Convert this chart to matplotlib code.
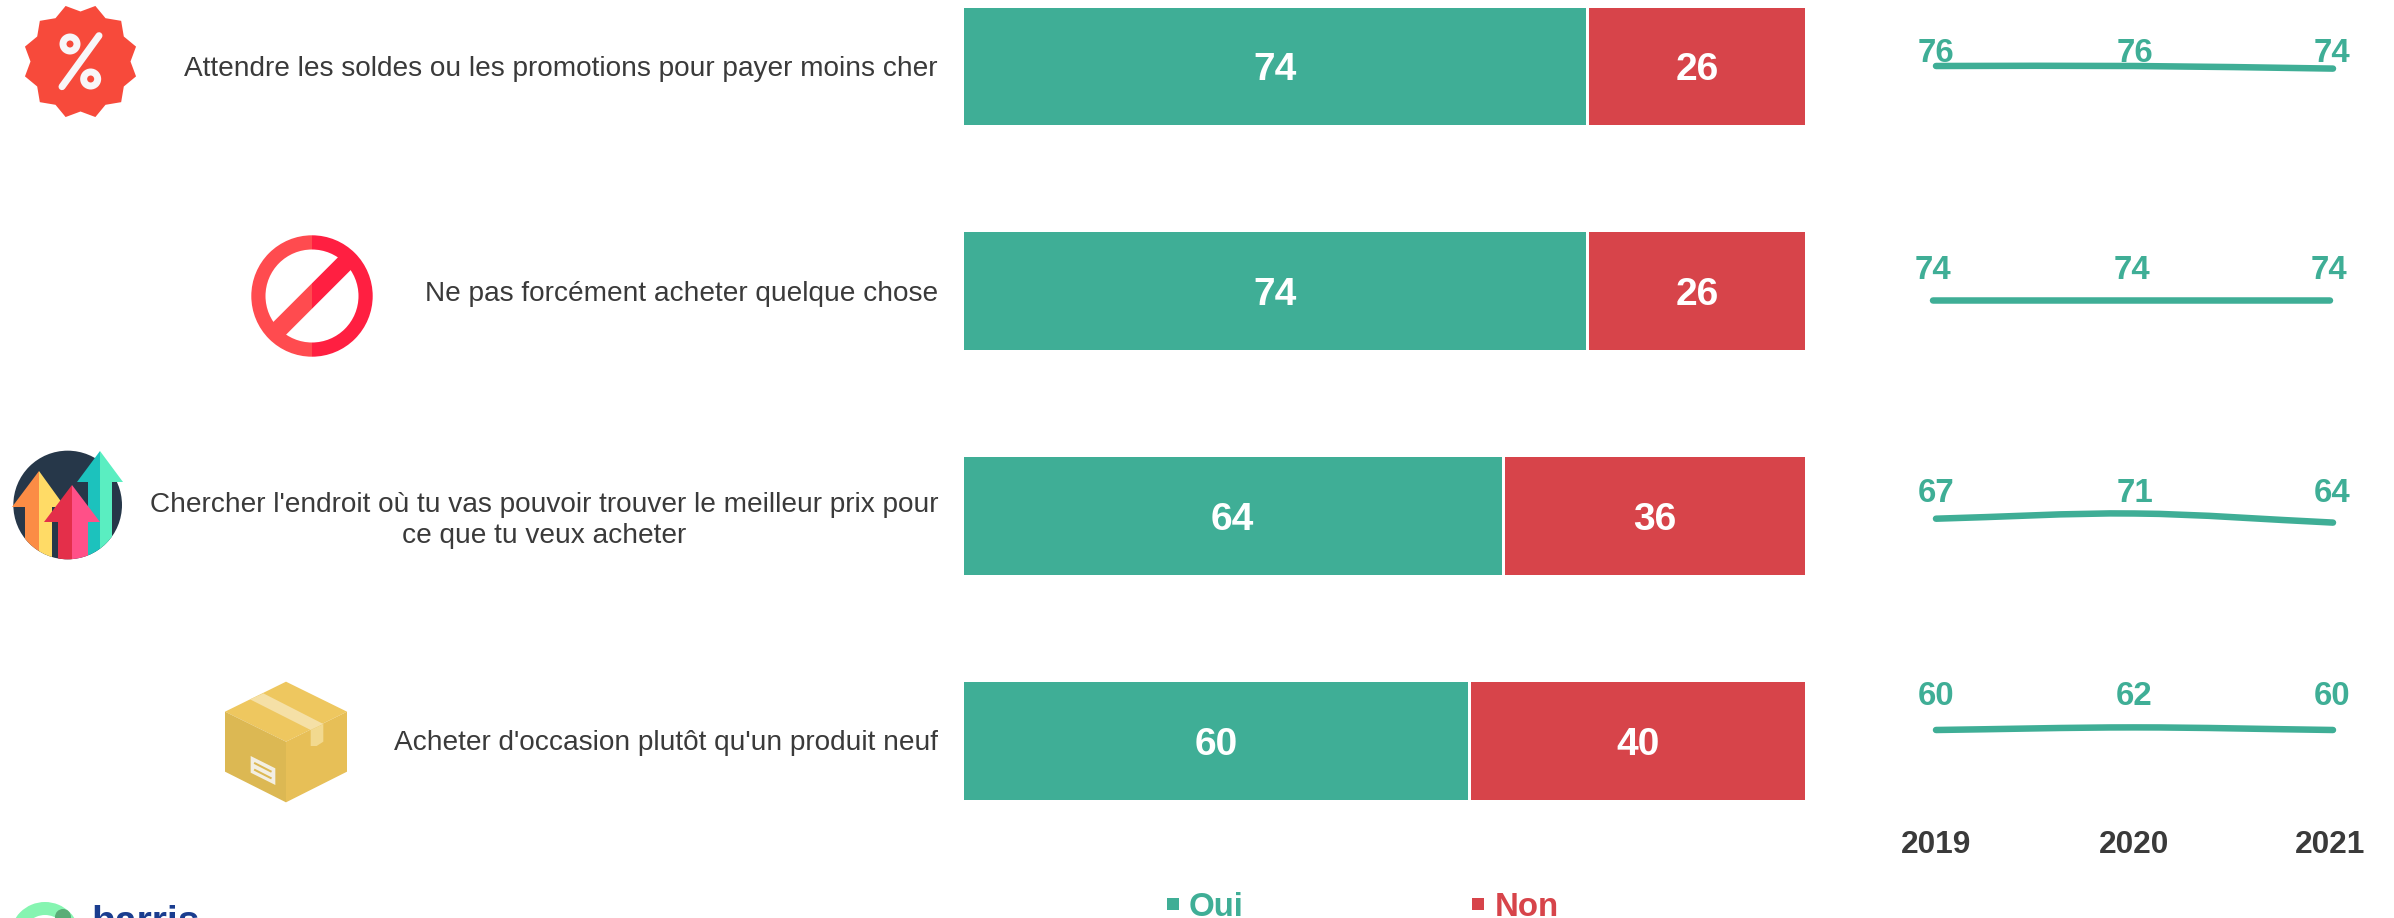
import matplotlib
matplotlib.use("Agg")
import matplotlib.pyplot as plt
import numpy as np
from matplotlib.lines import Line2D
from matplotlib.patches import Circle, PathPatch, Polygon, Wedge
from matplotlib.path import Path
from matplotlib.transforms import ScaledTranslation

plt.rcParams["font.family"] = ["Liberation Sans", "DejaVu Sans"]

# ---- data -------------------------------------------------------------
categories = [
    "Attendre les soldes ou les promotions pour payer moins cher",
    "Ne pas forcément acheter quelque chose",
    "Chercher l'endroit où tu vas pouvoir trouver le meilleur prix pour\nce que tu veux acheter",
    "Acheter d'occasion plutôt qu'un produit neuf",
]
oui = [74, 74, 64, 60]
non = [26, 26, 36, 40]
years = [2019, 2020, 2021]
trend_1 = [76, 76, 74]
trend_2 = [74, 74, 74]
trend_3 = [67, 71, 64]
trend_4 = [60, 62, 60]
trends = [trend_1, trend_2, trend_3, trend_4]

# ---- style ------------------------------------------------------------
W, H = 2394, 918
DPI = 100
GREEN = "#3fae96"
RED = "#d7444a"
DARK = "#3a3a3a"
PX = 72 / DPI
GAP = 0.4

fig = plt.figure(figsize=(W / DPI, H / DPI), dpi=DPI, facecolor="white")


def rect(x0, y0, x1, y1):
    return [x0 / W, 1 - y1 / H, (x1 - x0) / W, (y1 - y0) / H]


# ---- pixel overlay for the pictograms ----------------------------------
bg = fig.add_axes([0, 0, 1, 1], zorder=0)
bg.set_xlim(0, W)
bg.set_ylim(H, 0)
bg.axis("off")


def poly(pts, color, clip=None, z=2):
    p = Polygon(pts, closed=True, facecolor=color, edgecolor="none", zorder=z)
    bg.add_patch(p)
    if clip is not None:
        p.set_clip_path(clip)
    return p


def Z(x, y, oy=0):
    return (x / 3, oy + y / 3)


# icon 1: percent badge
cx, cy = 80.5, 61.5
star = []
for k in range(12):
    a = np.deg2rad(15 + 30 * k)
    star.append((cx + 57.5 * np.cos(a), cy + 57.5 * np.sin(a)))
    a2 = np.deg2rad(30 + 30 * k)
    star.append((cx + 50 * np.cos(a2), cy + 50 * np.sin(a2)))
poly(star, "#f74a3b")
bg.plot([186 / 3, 297 / 3], [260 / 3, 107 / 3], color="#f8f6f8", lw=7 * PX,
        solid_capstyle="round", zorder=3)
for x0, y0 in [(210 / 3, 132 / 3), (272 / 3, 237 / 3)]:
    bg.add_patch(Circle((x0, y0), 10.5, fc="#f8f6f8", ec="none", zorder=3))
    bg.add_patch(Circle((x0, y0), 3.5, fc="#f74a3b", ec="none", zorder=4))

# icon 2: forbidden sign
cx, cy, R, r = 312, 296, 60.7, 46.5
bg.add_patch(Wedge((cx, cy), R, 90, 270, width=R - r, fc="#ff4b4f", ec="none", zorder=2))
bg.add_patch(Wedge((cx, cy), R, 270, 450, width=R - r, fc="#ff1f41", ec="none", zorder=2))
w, L, s2 = 9, 50, np.sqrt(2)
ex, ey = L / s2, L / s2
nx, ny = w / s2, w / s2
poly([(cx, cy - w * s2), (cx + ex - nx, cy - ey - ny), (cx + ex + nx, cy - ey + ny),
      (cx, cy + w * s2)], "#ff1f41")
poly([(cx, cy - w * s2), (cx - ex - nx, cy + ey - ny), (cx - ex + nx, cy + ey + ny),
      (cx, cy + w * s2)], "#ff4b4f")

# icon 3: rising arrows
oy = 420
disc = Circle((203 / 3, oy + 255 / 3), 163 / 3, fc="#263749", ec="none", zorder=2)
bg.add_patch(disc)


def arrow(tip_x, tip_y, head_y, xl, xr, sl, sr, cl, cr, z):
    bottom = 440
    poly([Z(tip_x, tip_y, oy), Z(tip_x, head_y, oy), Z(xl, head_y, oy)], cl, z=z)
    poly([Z(tip_x, tip_y, oy), Z(tip_x, head_y, oy), Z(xr, head_y, oy)], cr, z=z)
    poly([Z(sl, head_y, oy), Z(tip_x, head_y, oy), Z(tip_x, bottom, oy), Z(sl, bottom, oy)], cl, clip=disc, z=z)
    poly([Z(tip_x, head_y, oy), Z(sr, head_y, oy), Z(sr, bottom, oy), Z(tip_x, bottom, oy)], cr, clip=disc, z=z)


arrow(300, 93, 185, 232, 369, 265, 335, "#1cc2bd", "#5aeec1", 3)
arrow(116, 152, 260, 36, 196, 76, 157, "#fb8c45", "#ffdb66", 4)
arrow(216, 195, 305, 133, 301, 175, 263, "#e42f4a", "#ff5088", 5)

# icon 4: cardboard box
poly([Z(858, 785, oy), Z(1041, 875, oy), Z(858, 965, oy), Z(675, 875, oy)], "#eec75f")
poly([Z(675, 875, oy), Z(858, 965, oy), Z(858, 1147, oy), Z(675, 1055, oy)], "#dcb853")
poly([Z(858, 965, oy), Z(1041, 875, oy), Z(1041, 1055, oy), Z(858, 1147, oy)], "#e7bf57")
poly([Z(750, 838, oy), Z(790, 820, oy), Z(970, 912, oy), Z(932, 930, oy)], "#f5e0a6", z=3)
poly([Z(932, 930, oy), Z(970, 912, oy), Z(970, 965, oy), Z(950, 978, oy), Z(932, 978, oy)], "#f2d98f", z=3)
poly([Z(752, 1008, oy), Z(826, 1045, oy), Z(826, 1095, oy), Z(752, 1058, oy)], "#f3efe3", z=3)
for dy in (0, 20):
    bg.plot([765 / 3, 812 / 3], [oy + (1030 + dy) / 3, oy + (1054 + dy) / 3], color="#dcb853",
            lw=2 * PX, zorder=4)

# clipped logo at the bottom edge
bg.add_patch(Wedge((45, 937), 35, 0, 360, width=13, fc="#86f5b1", ec="none", zorder=2))
bg.add_patch(Circle((63, 917), 8, fc="#5aad77", ec="none", zorder=3))
bg.text(91, 933, "harris", color="#1a3d8f", fontsize=39 * PX, fontweight="bold",
        ha="left", va="baseline", zorder=3)

# ---- stacked bars ------------------------------------------------------
BAR_L, BAR_R = 963.5, 1804.5
BAR_T, BAR_B = 7.5, 799.5
STEP = (682.3 - 8) / 3
BAR_H = 117.5 / STEP
ax = fig.add_axes(rect(BAR_L, BAR_T, BAR_R, BAR_B), zorder=1)
ax.patch.set_alpha(0)
ypos = np.arange(len(categories))
oui_arr, non_arr = np.array(oui, float), np.array(non, float)
c1 = ax.barh(ypos, oui_arr, height=BAR_H, color=GREEN, label="Oui")
c2 = ax.barh(ypos, non_arr - GAP, left=oui_arr + GAP, height=BAR_H, color=RED, label="Non")
labels_oui = [str(v) for v in oui]
labels_non = [str(v) for v in non]
value_texts = ax.bar_label(c1, labels=labels_oui, label_type="center", color="white",
                           fontsize=39 * PX, fontweight="bold")
value_texts += ax.bar_label(c2, labels=labels_non, label_type="center", color="white",
                            fontsize=39 * PX, fontweight="bold")
for t in value_texts:
    t.set_va("center_baseline")
ax.set_xlim(0, 100)
ax.set_ylim(len(categories) - 1 + BAR_H / 2, -BAR_H / 2)
ax.set_xticks([])
ax.set_yticks(ypos, categories)
ax.tick_params(axis="y", length=0, pad=25.5 * PX, labelsize=28 * PX, labelcolor=DARK)
for t in ax.get_yticklabels():
    t.set_multialignment("center")
    t.set_linespacing(1.25)
    t.set_transform(t.get_transform() + ScaledTranslation(0, 0.5 / DPI, fig.dpi_scale_trans))
for s in ax.spines.values():
    s.set_visible(False)

# ---- legend ------------------------------------------------------------
handles = [
    Line2D([], [], ls="", marker="s", ms=12 * PX, color=GREEN, mew=0),
    Line2D([], [], ls="", marker="s", ms=12 * PX, color=RED, mew=0),
]
leg = fig.legend(handles, ["Oui", "Non"], ncol=2, frameon=False,
                 loc="center left", bbox_to_anchor=(1166 / W, 1 - 907 / H),
                 bbox_transform=fig.transFigure,
                 prop={"size": 33 * PX, "weight": "bold"},
                 labelcolor=[GREEN, RED], handlelength=0.4, handletextpad=0.3,
                 columnspacing=6.9, borderpad=0, borderaxespad=0)

# ---- sparklines --------------------------------------------------------
SCALE = 1.3  # px per point
ROW_BASE_Y = [66, 300.5, 518.7, 730]  # pixel of first value
ROW_LABEL_Y = [50, 267, 490, 693]
ROW_DX = [0, -3, 0, 0]
SP_L, SP_R = 1936, 2333
LW = 6.5


def smooth_path(x, y):
    x, y = np.asarray(x, float), np.asarray(y, float)
    m = np.gradient(y, x)
    verts = [(x[0], y[0])]
    codes = [Path.MOVETO]
    for i in range(len(x) - 1):
        h = (x[i + 1] - x[i]) / 3
        verts += [(x[i] + h, y[i] + m[i] * h), (x[i + 1] - h, y[i + 1] - m[i + 1] * h), (x[i + 1], y[i + 1])]
        codes += [Path.CURVE4] * 3
    return Path(verts, codes)


for i, vals in enumerate(trends):
    dx = ROW_DX[i]
    base = ROW_BASE_Y[i]
    top_px, bot_px = base - 40, base + 40
    sp = fig.add_axes(rect(SP_L + dx, top_px, SP_R + dx, bot_px), zorder=2)
    sp.patch.set_alpha(0)
    sp.set_xlim(years[0], years[-1])
    sp.set_ylim(vals[0] - 40 / SCALE, vals[0] + 40 / SCALE)
    sp.add_patch(PathPatch(smooth_path(years, vals), fc="none", ec=GREEN, lw=LW * PX,
                           capstyle="round", clip_on=False))
    label_px_offset = [0, 0, -1]
    for yr, v, off in zip(years, vals, label_px_offset):
        sp.annotate(str(v), xy=(yr, vals[0]), xycoords="data",
                    xytext=(off * PX, (base - ROW_LABEL_Y[i]) * PX), textcoords="offset points",
                    ha="center", va="center_baseline", color=GREEN, fontsize=33 * PX,
                    fontweight="bold", annotation_clip=False)
    for s in sp.spines.values():
        s.set_visible(False)
    sp.set_yticks([])
    if i == len(trends) - 1:
        sp.set_xticks(years, [str(y) for y in years])
        sp.tick_params(axis="x", length=0, pad=(830 - bot_px) * PX, labelsize=31.7 * PX,
                       labelcolor=DARK)
        for t, off in zip(sp.get_xticklabels(), [0, 0, -3]):
            t.set_fontweight("bold")
            t.set_transform(t.get_transform() + ScaledTranslation(off / DPI, 0, fig.dpi_scale_trans))
    else:
        sp.set_xticks([])

fig.savefig("out.png", dpi=DPI, facecolor="white")
